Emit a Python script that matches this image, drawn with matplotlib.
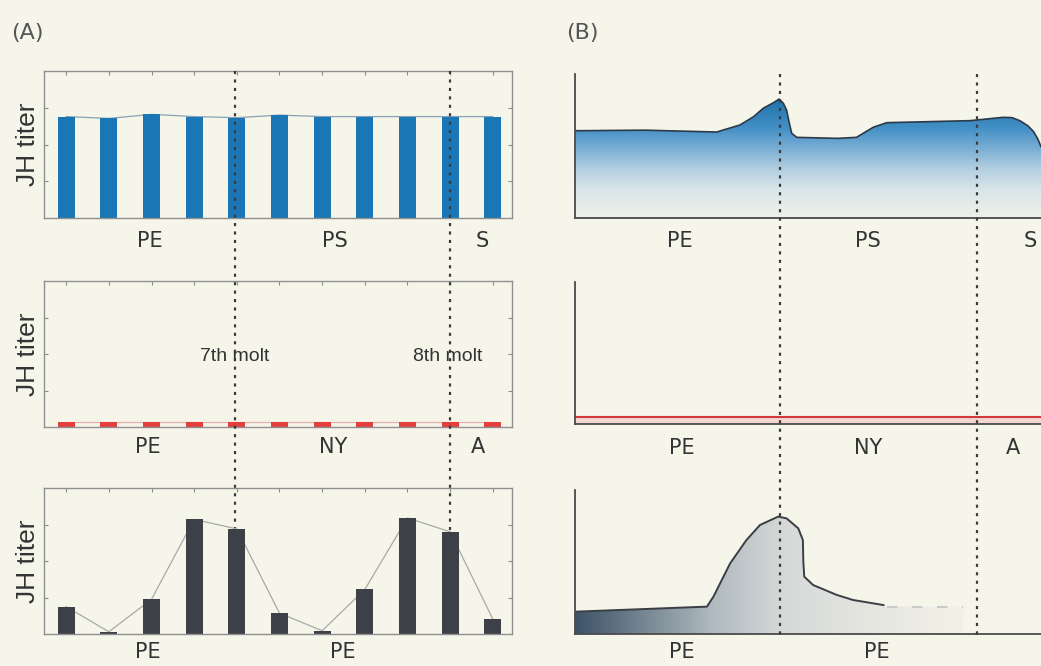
import numpy as np
import matplotlib
matplotlib.use("Agg")
import matplotlib.pyplot as plt
from matplotlib.colors import LinearSegmentedColormap
from matplotlib.lines import Line2D
from matplotlib.patches import Polygon

# ---------------- data ----------------
# Panel A: JH titer bars (arbitrary units, axis 0-4)
bar_x = [0, 1, 2, 3, 4, 5, 6, 7, 8, 9, 10]
jh_top = [2.76, 2.71, 2.82, 2.76, 2.73, 2.80, 2.76, 2.76, 2.76, 2.76, 2.76]
jh_mid = [0.15, 0.15, 0.15, 0.15, 0.15, 0.15, 0.15, 0.15, 0.15, 0.15, 0.15]
jh_bot = [0.75, 0.06, 0.95, 3.14, 2.88, 0.57, 0.09, 1.22, 3.18, 2.80, 0.41]
molt_x_A = [4, 9]
molt_labels = ["7th molt", "8th molt"]

stages_A_top = ["PE", "PS", "S"]
stages_A_mid = ["PE", "NY", "A"]
stages_A_bot = ["PE", "PE"]

# Panel B: schematic curves (x 0-100, y 0-1)
b_top_x = [0, 15, 30.4, 35.4, 38.3, 40.4, 42.6, 43.8, 44.7, 45.4, 46.0, 46.5, 47.6,
           56.4, 60.4, 64.0, 66.9, 84.8, 91.9, 93.8, 95.5, 97.2, 98.4, 99.3, 100]
b_top_y = [0.606, 0.61, 0.597, 0.646, 0.703, 0.762, 0.801, 0.826, 0.797, 0.75, 0.658,
           0.588, 0.560, 0.553, 0.56, 0.63, 0.662, 0.676, 0.699, 0.697, 0.675, 0.64,
           0.60, 0.55, 0.495]
b_mid_x = [0, 100]
b_mid_y = [0.05, 0.05]
b_bot_x = [0, 28.3, 29.7, 33.3, 36.8, 39.7, 43.6, 45.4, 47.9, 48.9, 49.0, 49.2,
           51.1, 56.2, 59.7, 66.2]
b_bot_y = [0.155, 0.19, 0.259, 0.491, 0.653, 0.757, 0.815, 0.803, 0.734, 0.653,
           0.50, 0.398, 0.340, 0.271, 0.236, 0.201]
b_bot_dash_x = [66.9, 83.3]
b_bot_dash_y = [0.19, 0.19]

stages_B_top = ["PE", "PS", "S"]
stages_B_mid = ["PE", "NY", "A"]
stages_B_bot = ["PE", "PE"]

# ---------------- figure ----------------
W, H = 1041, 666
BG = "#f6f5ea"
fig = plt.figure(figsize=(W / 100, H / 100), dpi=100, facecolor=BG)


def rect(x0, y0, x1, y1):
    return [x0 / W, 1 - y1 / H, (x1 - x0) / W, (y1 - y0) / H]


FONT = "DejaVu Sans"

# ---- Panel A axes ----
axA = [fig.add_axes(rect(44, 71, 512, 218)),
       fig.add_axes(rect(44, 281, 512, 427)),
       fig.add_axes(rect(44, 488, 512, 634))]
axA[2].set_zorder(3)

bar_vals = [jh_top, jh_mid, jh_bot]
bar_cols = ["#1a76b4", "#e2403e", "#3d4047"]
line_cols = ["#8aa0b4", "#e8b0ae", "#a9a9a9"]
for ax, vals, bc, lc in zip(axA, bar_vals, bar_cols, line_cols):
    ax.set_facecolor("none")
    ax.plot(bar_x, vals, color=lc, lw=0.9, zorder=1)
    ax.bar(bar_x, vals, width=0.4, color=bc, zorder=2)
    ax.set_xlim(-0.52, 10.45)
    ax.set_ylim(0, 4)
    ax.set_yticks([1, 2, 3])
    ax.set_xticks(bar_x)
    ax.tick_params(axis="both", direction="in", length=3, width=0.8, color="#8a8a8a",
                   left=True, right=True, top=True, bottom=False,
                   labelleft=False, labelbottom=False)
    for s in ax.spines.values():
        s.set_color("#909090")
        s.set_linewidth(1.0)
    ax.set_ylabel("JH titer", fontsize=19, color="#333333", family="Liberation Sans",
                  labelpad=3)

for xm, lab in zip(molt_x_A, molt_labels):
    axA[1].text(xm - 0.86, 1.92, lab, fontsize=14, color="#333333",
                family="Liberation Sans", ha="left", va="center")

# ---- Panel B axes ----
axB = [fig.add_axes(rect(575, 74, 1041, 218)),
       fig.add_axes(rect(575, 282, 1041, 424)),
       fig.add_axes(rect(575, 490, 1041, 634))]
for ax in axB:
    ax.set_facecolor("none")
    for side in ("top", "right"):
        ax.spines[side].set_visible(False)
    for side in ("left", "bottom"):
        ax.spines[side].set_color("#4a4a4a")
        ax.spines[side].set_linewidth(1.3)
    ax.set_xticks([])
    ax.set_yticks([])

# top: vertical blue gradient
ax = axB[0]
cmap_blue = LinearSegmentedColormap.from_list(
    "blue", [(0.0, "#eff1ea"), (0.2, "#d8e5e8"), (0.35, "#aecde0"),
             (0.5, "#72a9d2"), (0.62, "#4490c6"), (0.85, "#1a6da7"), (1.0, "#155f93")])
poly = Polygon([(b_top_x[0], 0)] + list(zip(b_top_x, b_top_y)) + [(b_top_x[-1], 0)],
               closed=True, facecolor="none", edgecolor="none")
ax.add_patch(poly)
grad = np.linspace(0, 1, 256)[:, None] * np.ones((1, 4))
im = ax.imshow(grad, extent=[0, 100, 0, 1], origin="lower", aspect="auto",
               cmap=cmap_blue, vmin=0, vmax=1, zorder=1)
im.set_clip_path(poly)
ax.plot(b_top_x, b_top_y, color="#2c3a48", lw=1.2, zorder=2)
ax.set_xlim(0, 100)
ax.set_ylim(0, 1)

# middle: red line
ax = axB[1]
ax.fill_between(b_mid_x, 0, b_mid_y, color="#f1d6d2", lw=0, zorder=1)
ax.plot(b_mid_x, b_mid_y, color="#d5383c", lw=1.5, zorder=2)
ax.set_xlim(0, 100)
ax.set_ylim(0, 1)

# bottom: horizontal grey gradient
ax = axB[2]
cmap_grey = LinearSegmentedColormap.from_list(
    "grey", [(0.0, "#3e5367"), (0.12, "#6b7d8b"), (0.3, "#b2bbc0"),
             (0.45, "#d6d9d8"), (0.62, "#e4e5e0"), (0.84, "#f3f2e8"), (1.0, "#f6f5ea")])
poly2 = Polygon([(b_bot_x[0], 0)] + list(zip(b_bot_x, b_bot_y)) +
                list(zip(b_bot_dash_x, b_bot_dash_y)) + [(b_bot_dash_x[-1], 0)],
                closed=True, facecolor="none", edgecolor="none")
ax.add_patch(poly2)
gradx = np.ones((4, 1)) * np.linspace(0, 1, 256)[None, :]
im2 = ax.imshow(gradx, extent=[0, 100, 0, 1], origin="lower", aspect="auto",
                cmap=cmap_grey, vmin=0, vmax=1, zorder=1)
im2.set_clip_path(poly2)
ax.plot(b_bot_x, b_bot_y, color="#3a3f45", lw=1.4, zorder=2)
ax.plot(b_bot_dash_x, b_bot_dash_y, color="#c9cbcb", lw=1.5, dashes=(5, 7), zorder=2)
ax.set_xlim(0, 100)
ax.set_ylim(0, 1)

# ---- vertical dotted lines (molts) across panels ----
for px in (235, 450):
    fig.add_artist(Line2D([px / W, px / W], [1 - 71 / H, 1 - 634 / H],
                          transform=fig.transFigure, color="#3a3a3a", lw=1.6,
                          linestyle=(0, (1.4, 2.4)), zorder=2))
for px in (780, 977):
    fig.add_artist(Line2D([px / W, px / W], [1 - 74 / H, 1 - 637 / H],
                          transform=fig.transFigure, color="#3a3a3a", lw=1.6,
                          linestyle=(0, (1.4, 2.4)), zorder=2))

# ---- stage labels ----
def stage_labels(labels, xs, py):
    for lab, px in zip(labels, xs):
        fig.text(px / W, 1 - py / H, lab, fontsize=15, color="#333333", family=FONT,
                 ha="center", va="center")


stage_labels(stages_A_top, [150, 335, 482], 241)
stage_labels(stages_A_mid, [148, 333, 478], 447)
stage_labels(stages_A_bot, [148, 343], 652)
stage_labels(stages_B_top, [680, 868, 1030], 241)
stage_labels(stages_B_mid, [682, 868, 1013], 448)
stage_labels(stages_B_bot, [682, 877], 652)

# ---- panel letters ----
fig.text(27 / W, 1 - 33 / H, "(A)", fontsize=16, color="#555555", family=FONT,
         ha="center", va="center")
fig.text(582 / W, 1 - 33 / H, "(B)", fontsize=16, color="#555555", family=FONT,
         ha="center", va="center")

fig.savefig("out.png", dpi=100, facecolor=BG)
